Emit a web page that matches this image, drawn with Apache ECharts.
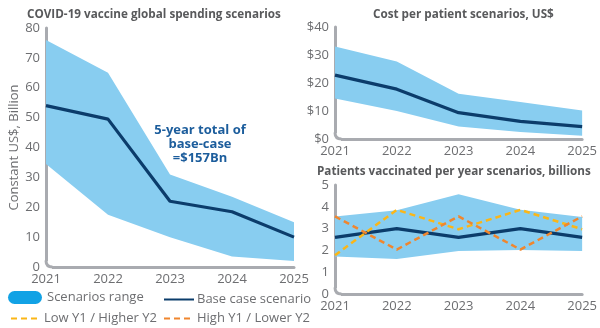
<!DOCTYPE html>
<html>
<head>
<meta charset="utf-8">
<script src="https://cdn.jsdelivr.net/npm/echarts@6/dist/echarts.min.js"></script>
<style>
  html, body { margin: 0; padding: 0; background: #fff; }
  #chart { width: 600px; height: 328px; }
</style>
</head>
<body>
<div id="chart"></div>
<script>
// Years shared by all three panels
const years = ['2021', '2022', '2023', '2024', '2025'];

// Global spending, constant US$ billions
const spendLow  = [34.5, 17.5, 10, 3.5, 2];
const spendHigh = [76, 65, 31, 23.5, 15];
const spendBase = [54, 49.5, 22, 18.5, 10];

// Cost per patient, US$
const costLow  = [14.5, 10, 4.5, 2.5, 1.2];
const costHigh = [33, 27.7, 16.2, 13.2, 10.2];
const costBase = [22.8, 17.8, 9.4, 6.3, 4.4];

// Patients vaccinated per year, billions
const patLow  = [1.72, 1.6, 1.97, 2.02, 1.97];
const patHigh = [3.56, 3.84, 4.57, 3.87, 3.53];
const patBase = [2.6, 3.0, 2.6, 3.0, 2.6];
const patLowHigh = [1.78, 3.86, 2.97, 3.86, 2.97];
const patHighLow = [3.56, 2.04, 3.56, 2.04, 3.56];

const leftTicks  = { min: 0, max: 80, interval: 10 };
const costTicks  = { min: 0, max: 40, interval: 10 };
const patTicks   = { min: 0, max: 5,  interval: 1 };

const FONT = '"Open Sans", "Noto Sans", sans-serif';
const GREY_TEXT = '#6d6e71';
const TITLE_GREY = '#58595b';
const AXIS_GREY = '#a9abb0';
const BAND = '#88cdf0';
const BAND_ICON = '#12a2e5';
const NAVY = '#0b3c6b';
const YELLOW = '#fbb617';
const ORANGE = '#f0862e';

// Pill-shaped swatch for the range legend entry
const PILL = 'path://M6.5,0 L27.5,0 A6.5,6.5 0 0 1 27.5,13 L6.5,13 A6.5,6.5 0 0 1 6.5,0 Z';

const diff = (hi, lo) => hi.map((v, i) => +(v - lo[i]).toFixed(3));

function xAxis(gridIndex) {
  return {
    type: 'category', gridIndex, data: years, boundaryGap: false,
    axisLine: { lineStyle: { color: AXIS_GREY, width: 3, cap: 'round' } },
    axisTick: { show: false },
    axisLabel: { color: GREY_TEXT, fontFamily: FONT, fontSize: 13, margin: 6 }
  };
}
function yAxis(gridIndex, t, fmt, extra) {
  return Object.assign({
    type: 'value', gridIndex, min: t.min, max: t.max, interval: t.interval,
    axisLine: { show: true, lineStyle: { color: AXIS_GREY, width: 3, cap: 'round' } },
    axisTick: { show: false },
    splitLine: { show: false },
    axisLabel: { color: GREY_TEXT, fontFamily: FONT, fontSize: 13, margin: 6, formatter: fmt }
  }, extra || {});
}
function band(idx, lo, hi, stack) {
  return [
    { type: 'line', xAxisIndex: idx, yAxisIndex: idx, data: lo, stack, symbol: 'none',
      lineStyle: { width: 0 }, silent: true, name: '_lo' + idx },
    { type: 'line', name: 'Scenarios range', xAxisIndex: idx, yAxisIndex: idx, data: diff(hi, lo), stack,
      symbol: 'none', lineStyle: { width: 0 }, itemStyle: { color: BAND_ICON },
      areaStyle: { color: BAND, opacity: 1 }, silent: true }
  ];
}
function baseLine(idx, data) {
  return { type: 'line', name: 'Base case scenario', xAxisIndex: idx, yAxisIndex: idx, data,
    symbol: 'none', itemStyle: { color: NAVY }, lineStyle: { color: NAVY, width: 3.2 }, z: 5 };
}
function dashLine(idx, name, data, color) {
  return { type: 'line', name, xAxisIndex: idx, yAxisIndex: idx, data, symbol: 'none',
    itemStyle: { color }, lineStyle: { color, width: 2.5, type: [6, 4] }, z: 6 };
}
function legendAt(left, top, name, extra) {
  return Object.assign({
    left, top, padding: 0, data: [name], selectedMode: false,
    itemWidth: 30, itemHeight: 10, itemGap: 0,
    itemStyle: { opacity: 0 },
    textStyle: { color: GREY_TEXT, fontFamily: FONT, fontSize: 13, padding: [0, 0, 0, -2] }
  }, extra || {});
}
function heading(text, x, y) {
  return {
    type: 'text', x, y, silent: true,
    style: { text, fill: TITLE_GREY, font: 'bold 11.7px ' + FONT, textAlign: 'left', textVerticalAlign: 'middle', verticalAlign: 'middle' }
  };
}

const chart = echarts.init(document.getElementById('chart'), null, { renderer: 'canvas' });
chart.setOption({
  animation: false,
  backgroundColor: '#ffffff',
  grid: [
    { left: 46, right: 306, top: 28, bottom: 61 },
    { left: 335, right: 17, top: 27, bottom: 189 },
    { left: 335, right: 17, top: 185, bottom: 34 }
  ],
  xAxis: [xAxis(0), xAxis(1), xAxis(2)],
  yAxis: [
    yAxis(0, leftTicks, null, {
      name: 'Constant US$, Billion', nameLocation: 'middle', nameGap: 24,
      nameTextStyle: { color: GREY_TEXT, fontFamily: FONT, fontSize: 13 }
    }),
    yAxis(1, costTicks, '${value}'),
    yAxis(2, patTicks, null)
  ],
  legend: [
    legendAt(8, 291, 'Scenarios range', {
      itemWidth: 34, itemHeight: 13, icon: PILL, itemStyle: { opacity: 1, color: BAND_ICON },
      textStyle: { color: GREY_TEXT, fontFamily: FONT, fontSize: 13, padding: [0, 0, 0, 0] }
    }),
    legendAt(163, 293, 'Base case scenario'),
    legendAt(10, 312, 'Low Y1 / Higher Y2'),
    legendAt(163, 312, 'High Y1 / Lower Y2')
  ],
  series: [
    ...band(0, spendLow, spendHigh, 's0'),
    baseLine(0, spendBase),
    ...band(1, costLow, costHigh, 's1'),
    baseLine(1, costBase),
    ...band(2, patLow, patHigh, 's2'),
    baseLine(2, patBase),
    dashLine(2, 'Low Y1 / Higher Y2', patLowHigh, YELLOW),
    dashLine(2, 'High Y1 / Lower Y2', patHighLow, ORANGE)
  ]
});

// Panel headings, the base-case note, and rounded corners where each pair of axes meets
const extras = [
  heading('COVID-19 vaccine global spending scenarios', 27, 15),
  heading('Cost per patient scenarios, US$', 373, 15),
  heading('Patients vaccinated per year scenarios, billions', 317, 172),
  {
    type: 'text', x: 200, y: 123, silent: true,
    style: {
      text: '5-year total of\nbase-case\n=$157Bn',
      fill: '#1c5d9c', font: 'bold 13px ' + FONT, lineHeight: 14, textAlign: 'center', align: 'center'
    }
  }
];
const r = 6;
[0, 1, 2].forEach(function (i) {
  const o = chart.convertToPixel({ xAxisIndex: i, yAxisIndex: i }, [0, 0]);
  const x0 = o[0], y0 = o[1];
  extras.push({
    type: 'rect', silent: true, z: 100,
    shape: { x: x0 - 2.5, y: y0 - r, width: r + 2.5, height: r + 2.5 },
    style: { fill: '#ffffff' }
  });
  extras.push({
    type: 'bezierCurve', silent: true, z: 101,
    shape: { x1: x0, y1: y0 - r - 0.5, cpx1: x0, cpy1: y0, x2: x0 + r + 0.5, y2: y0 },
    style: { fill: null, stroke: AXIS_GREY, lineWidth: 3 }
  });
});
chart.setOption({ graphic: extras });
</script>
</body>
</html>
